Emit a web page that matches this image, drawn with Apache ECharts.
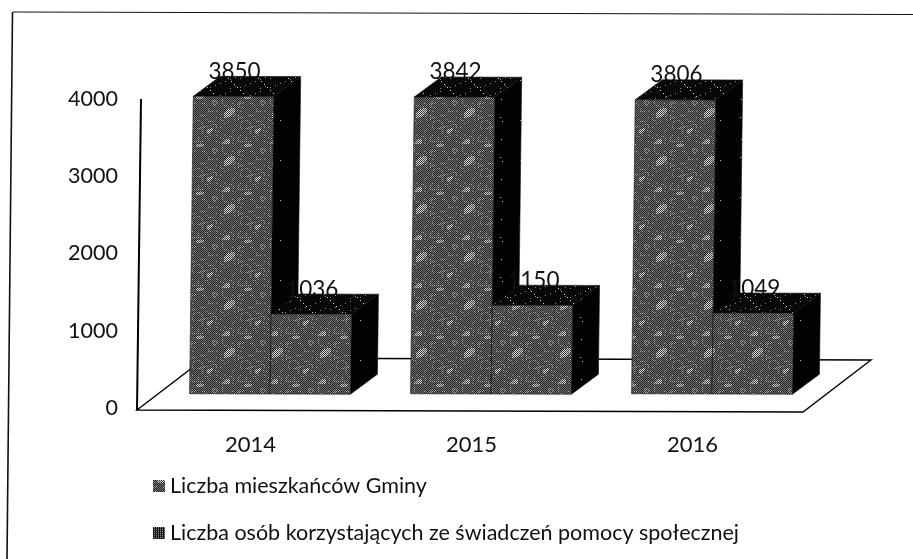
<!DOCTYPE html>
<html><head><meta charset="utf-8">
<style>html,body{margin:0;padding:0;background:#fff}#c{width:913px;height:559px}</style>
<script src="https://cdn.jsdelivr.net/npm/echarts@6/dist/echarts.min.js"></script>
</head><body><div id="c"></div>
<script>
const categories = ['2014','2015','2016'];
const seriesNames = ['Liczba mieszkańców Gminy','Liczba osób korzystających ze świadczeń pomocy społecznej'];
const residents = [3850,3842,3806];
const beneficiaries = [1036,1150,1049];
const yTicks = [0,1000,2000,3000,4000];

function tile(size, fn){
  const c=document.createElement('canvas');c.width=c.height=size;
  const g=c.getContext('2d');const d=g.createImageData(size,size);
  for(let y=0;y<size;y++)for(let x=0;x<size;x++){
    const v=fn(x,y),i=(y*size+x)*4;d.data[i]=d.data[i+1]=d.data[i+2]=v;d.data[i+3]=255;
  }
  g.putImageData(d,0,0);return {image:c,repeat:'repeat'};
}
const frontFill=tile(48,(x,y)=>{
  const m=Math.sin(x*Math.PI/24)*Math.cos(y*Math.PI/16)+0.5*Math.sin((x+y)*Math.PI/12);
  const odd=(x+y)%2===1;
  if(m>0.95&&odd)return 225;
  if(Math.abs(m+0.3)<0.07&&odd&&x%2===0)return 185;
  if(Math.abs(m-0.45)<0.05&&odd)return 170;
  return odd?104:46;
});
const iconFill=tile(4,(x,y)=>x%2===0?20:(y%2===0?130:60));
const topFill=tile(30,(x,y)=>((x*7+y*13)%30===0&&y%3===0)?215:((x*11+y*5)%45===0?140:8));
const sideFill=tile(40,(x,y)=>((x*17+y*23)%397===0)?190:2);

const DEPTH_X=27,DEPTH_Y=20,FRONT_X=19.5,FRONT_Y=14,SHEAR=0.0125,BAR=0.364;
const FLOOR_X=68,FLOOR_Y=52;

function barRender(side, values){
  return function(params,api){
    const i=api.value(0),v=values[i];
    const c=api.coord([i,v]),b=api.coord([i,0]);
    const w=api.size([1,0])[0]*BAR;
    const y0=b[1];
    const P=(x,y)=>[x+FRONT_X+(y0-y)*SHEAR,y-FRONT_Y+(x-b[0])*0.003];
    const l=side===0?b[0]-w:b[0], r=l+w, t=c[1];
    const poly=(pts,fill)=>({type:'polygon',shape:{points:pts},style:{fill:fill,stroke:'#111',lineWidth:0.6}});
    const A=P(l,t),B=P(r,t),C=P(r,y0),D=P(l,y0);
    const sh=(p)=>[p[0]+DEPTH_X,p[1]-DEPTH_Y];
    return {type:'group',children:[
      poly([B,C,sh(C),sh(B)],sideFill),
      {type:'text',style:{text:String(v),x:(A[0]+B[0])/2+1,y:A[1]-(side===0?25:24),align:'center',verticalAlign:'middle',
        font:'22.5px Lato',fill:'#111'}},
      poly([A,B,sh(B),sh(A)],topFill),
      poly([A,B,C,D],frontFill)
    ]};
  };
}
function floorRender(params,api){
  const o=api.coord([0,0]),top=api.coord([0,4000]);
  const band=api.size([1,0])[0];
  const x0=o[0]-band/2,y0=o[1],x1=x0+band*3;
  const a=[x0-3,y0+2],b=[x1,y0+4],c=[x1+FLOOR_X,y0+4-FLOOR_Y],d=[x0-3+FLOOR_X,y0+2-FLOOR_Y];
  const t=[x0+1,top[1]];
  return {type:'group',children:[
    {type:'polygon',shape:{points:[a,b,c,d]},style:{fill:'#fff',stroke:'#000',lineWidth:1.4}},
    {type:'line',shape:{x1:a[0],y1:a[1],x2:t[0],y2:t[1]},style:{stroke:'#000',lineWidth:2}}
  ]};
}
const idx=categories.map((_,i)=>[i]);
const chart=echarts.init(document.getElementById('c'),null,{renderer:'canvas'});
chart.setOption({
  animation:false,
  backgroundColor:'#fff',
  graphic:[
    {type:'line',shape:{x1:13,y1:12,x2:913,y2:14.5},style:{stroke:'#111',lineWidth:1.2},silent:true},
    {type:'line',shape:{x1:12.5,y1:12,x2:7,y2:559},style:{stroke:'#111',lineWidth:1.6},silent:true}
  ],
  grid:{left:140,top:99,width:663,height:309},
  legend:{orient:'vertical',left:148,top:470,itemGap:25,itemWidth:12,itemHeight:12,
    icon:'rect',data:seriesNames,selectedMode:false,
    textStyle:{fontFamily:'Lato',fontSize:21.5,color:'#111'}},
  xAxis:{type:'category',data:categories,
    axisLine:{show:false},axisTick:{show:false},
    axisLabel:{fontFamily:'Lato',fontSize:22,color:'#111',margin:26}},
  yAxis:{type:'value',min:0,max:4000,interval:1000,
    axisLine:{show:false},axisTick:{show:false},splitLine:{show:false},
    axisLabel:{fontFamily:'Lato',fontSize:21.5,color:'#111',margin:22,
      formatter:(v)=>String(v),customValues:yTicks}},
  series:[
    {type:'custom',name:'floor',renderItem:floorRender,data:[[0]],silent:true,z:1,clip:false,encode:{x:0}},
    {type:'custom',name:seriesNames[0],renderItem:barRender(0,residents),data:idx,z:2,clip:false,encode:{x:0},itemStyle:{color:frontFill}},
    {type:'custom',name:seriesNames[1],renderItem:barRender(1,beneficiaries),data:idx,z:3,clip:false,encode:{x:0},itemStyle:{color:iconFill}}
  ]
});
</script></body></html>
